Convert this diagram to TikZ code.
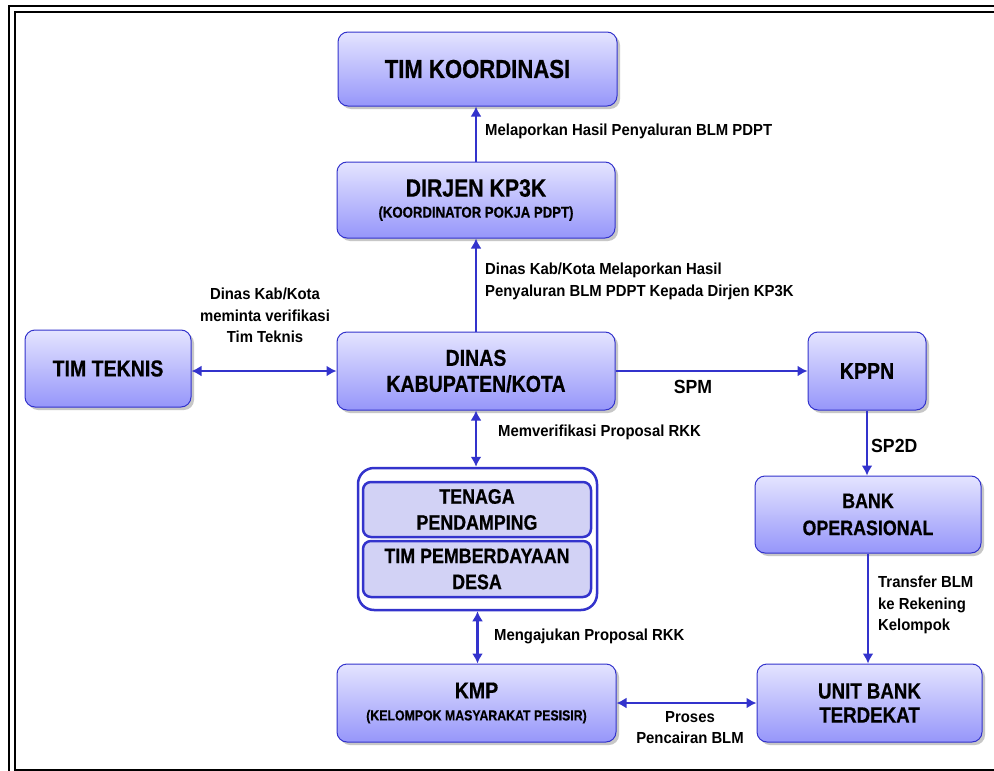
\documentclass[tikz,border=0pt]{standalone}
\usepackage{fontspec}
\setmainfont{Liberation Sans}[FakeStretch=0.85, BoldFeatures={FakeBold=0.5}]
\newfontfamily\lblfont{Liberation Sans}[FakeStretch=0.93]
\usetikzlibrary{arrows.meta,shadows}
\definecolor{bordc}{RGB}{51,51,204}
\definecolor{topc}{RGB}{228,228,255}
\definecolor{botc}{RGB}{150,150,250}
\definecolor{innerc}{RGB}{210,210,245}
\newcommand{\bxf}[2]{\fontsize{#1}{#2}\selectfont}
\tikzset{
  box/.style={rounded corners=10pt, draw=bordc, line width=1pt, top color=topc, bottom color=botc,
    align=center, inner sep=2pt,
    drop shadow={shadow xshift=3pt, shadow yshift=-3pt, fill=gray!55, opacity=0.8}},
  inbox/.style={rounded corners=8pt, draw=bordc, line width=2.5pt, fill=innerc, align=center},
  arr/.style={draw=bordc, line width=2.5pt, -{Latex[length=10pt,width=11pt]}},
  darr/.style={draw=bordc, line width=2.5pt, {Latex[length=10pt,width=11pt]}-{Latex[length=10pt,width=11pt]}},
  lbl/.style={font=\lblfont\bfseries\fontsize{16}{21.5}\selectfont, align=left, inner sep=0pt},
  big/.style={font=\lblfont\bfseries\fontsize{19}{22}\selectfont, inner sep=0pt},
}
\begin{document}
\begin{tikzpicture}[x=1pt,y=-1pt]
\useasboundingbox (0,0) rectangle (994,771);
\begin{scope}
\clip (0,0) rectangle (994,771);
\fill[white] (0,0) rectangle (994,771);
\draw[line width=2.5pt] (9,6) rectangle (1010,785);
\draw[line width=2.5pt] (15,12) rectangle (1010,770);
\end{scope}

\node[box, font=\bfseries\bxf{26}{30}, minimum width=279pt, minimum height=74pt] (koord) at (477.5,69) {TIM KOORDINASI};
\node[box, font=\bfseries\bxf{25}{21}, minimum width=278pt, minimum height=76pt] (dirjen) at (476,200) {DIRJEN KP3K\\\bxf{15.5}{21}(KOORDINATOR POKJA PDPT)};
\node[box, font=\bfseries\bxf{23}{27}, minimum width=166pt, minimum height=77pt] (teknis) at (108,368.5) {TIM TEKNIS};
\node[box, font=\bfseries\bxf{23}{26}, minimum width=278pt, minimum height=78pt] (dinas) at (476,371) {DINAS\\KABUPATEN/KOTA};
\node[box, font=\bfseries\bxf{23}{27}, minimum width=118pt, minimum height=78pt] (kppn) at (867,371) {KPPN};
\node[box, font=\bfseries\bxf{21}{27}, minimum width=226pt, minimum height=77pt] (bankop) at (868,514.5) {BANK\\OPERASIONAL};
\node[box, font=\bfseries\bxf{22}{24}, minimum width=225pt, minimum height=78pt] (unit) at (869.5,703) {UNIT BANK\\TERDEKAT};
\node[box, font=\bfseries\bxf{23}{22}, minimum width=279pt, minimum height=78pt] (kmp) at (476.5,703) {KMP\\\bxf{14.5}{22}(KELOMPOK MASYARAKAT PESISIR)};

\node[draw=bordc, line width=2.5pt, rounded corners=16pt, fill=white, minimum width=239pt, minimum height=142pt] (group) at (477.5,539) {};
\node[inbox, font=\bfseries\bxf{21}{26}, minimum width=228pt, minimum height=55pt] (tenaga) at (477,509.5) {TENAGA\\PENDAMPING};
\node[inbox, font=\bfseries\bxf{21}{26}, minimum width=228pt, minimum height=56pt] (tpd) at (477,569) {TIM PEMBERDAYAAN\\DESA};

\draw[arr] (dirjen.north) -- (dirjen.north |- koord.south);
\draw[arr] (dinas.north) -- (dirjen.south);
\draw[darr] (dinas.west) -- (dinas.west -| teknis.east);
\draw[arr] (dinas.east) -- (dinas.east -| kppn.west);
\draw[arr] (kppn.south) -- (kppn.south |- bankop.north);
\draw[darr] (dinas.south) -- (dinas.south |- group.north);
\draw[darr] (group.south) -- (group.south |- kmp.north);
\draw[arr] (bankop.south) -- (bankop.south |- unit.north);
\draw[darr] (kmp.east |- unit.west) -- (unit.west);

\node[lbl, anchor=west] (l1) at (485,131) {Melaporkan Hasil Penyaluran BLM PDPT};
\node[lbl, anchor=north west] (l2) at (485,263) {Dinas Kab/Kota Melaporkan Hasil\\Penyaluran BLM PDPT Kepada Dirjen KP3K};
\node[lbl, anchor=north, align=center] (l3) at (265,288) {Dinas Kab/Kota\\meminta verifikasi\\Tim Teknis};
\node[big] (l4) at (693,387) {SPM};
\node[big, anchor=west] (l5) at (871,446) {SP2D};
\node[lbl, anchor=west] (l6) at (498,432) {Memverifikasi Proposal RKK};
\node[lbl, anchor=west] (l7) at (494,636) {Mengajukan Proposal RKK};
\node[lbl, anchor=north west] (l8) at (878,576) {Transfer BLM\\ke Rekening\\Kelompok};
\node[lbl, anchor=north, align=center] (l9) at (690,711) {Proses\\Pencairan BLM};
\end{tikzpicture}
\end{document}
